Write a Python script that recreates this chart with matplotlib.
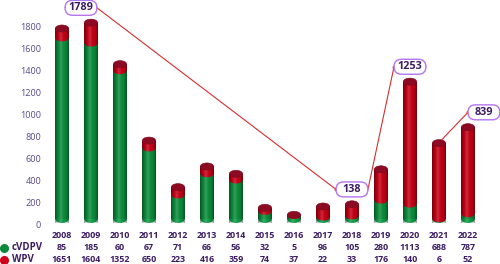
import matplotlib
matplotlib.use('Agg')
import matplotlib.pyplot as plt
import numpy as np
from matplotlib.patches import Ellipse, FancyBboxPatch
from matplotlib.transforms import blended_transform_factory
from matplotlib.lines import Line2D

years = [2008, 2009, 2010, 2011, 2012, 2013, 2014, 2015, 2016, 2017, 2018, 2019, 2020, 2021, 2022]
cvdpv = [85, 185, 60, 67, 71, 66, 56, 32, 5, 96, 105, 280, 1113, 688, 787]
wpv = [1651, 1604, 1352, 650, 223, 416, 359, 74, 37, 22, 33, 176, 140, 6, 52]
yticks = [0, 200, 400, 600, 800, 1000, 1200, 1400, 1600, 1800]
callout_years = [2009, 2018, 2020, 2022]

plt.rcParams['font.family'] = ['Open Sans', 'DejaVu Sans']

W, H = 500, 264
fig = plt.figure(figsize=(W / 100, H / 100), dpi=100)
ax = fig.add_axes([48 / W, 32 / H, (490 - 48) / W, (264 - 32) / H])
ax.set_xlim(-0.483, 14.76)
ax.set_ylim(-64, 2045)
for s in ax.spines.values():
    s.set_visible(False)
ax.set_xticks([])
ax.set_yticks(yticks)
ax.set_yticklabels([str(v) for v in yticks], fontsize=6.6, color='#5b4a8f')
ax.tick_params(axis='y', length=0, pad=5)

x = np.arange(len(years))
wpv_a = np.array(wpv)
cv_a = np.array(cvdpv)
tot = wpv_a + cv_a
bw = 0.46
eh = 64    # ellipse height in data units
base = 50  # 3D base offset of cylinders

GREEN = '#0b8a3b'
RED = '#c20015'
CAP = '#8c0b22'

n = 64
t = np.linspace(-1, 1, n)
shade = np.zeros((1, n, 4))
shade[0, :, 3] = 0.42 * np.clip(np.abs(t) ** 3, 0, 1)
shade_hl = np.ones((1, n, 4))
shade_hl[0, :, 3] = np.exp(-((t + 0.15) / 0.25) ** 2) * 0.16

for i in range(len(years)):
    ax.add_patch(Ellipse((x[i], base), bw, eh, facecolor='#0e9a45', edgecolor='none', zorder=2))
    ax.bar(x[i], wpv_a[i], bottom=base, width=bw, color=GREEN, zorder=2)
    ax.bar(x[i], cv_a[i], bottom=base + wpv_a[i], width=bw, color=RED, zorder=2)
    ax.add_patch(Ellipse((x[i], base + wpv_a[i]), bw, eh, facecolor=RED, edgecolor='none', zorder=3))
    for arr in (shade, shade_hl):
        ax.imshow(arr, extent=[x[i] - bw / 2, x[i] + bw / 2, base - eh / 2, base + tot[i]],
                  aspect='auto', zorder=4, interpolation='bilinear')
    ax.add_patch(Ellipse((x[i], base + tot[i]), bw, eh, facecolor=CAP, edgecolor='#7a0a1d',
                         lw=0.4, zorder=5))

# callouts
LINE = '#d32f2f'
box_w = 1.1
box_h = 136
asp = (1 / 0.11) / (1 / 29.0)
pos = {}
for yr in callout_years:
    i = years.index(yr)
    cx = x[i] - 0.345 if yr == 2009 else (x[i] + 0.55 if yr == 2022 else x[i])
    cy = tot[i] + 185
    pos[yr] = (cx, cy)
    box = FancyBboxPatch((cx - box_w / 2, cy - box_h / 2), box_w, box_h,
                         boxstyle='round,pad=0,rounding_size=0.26', mutation_aspect=asp,
                         facecolor='white', edgecolor='#b574f2', lw=1.0, zorder=7, clip_on=False)
    ax.add_patch(box)
    ax.text(cx, cy, str(tot[i]), ha='center', va='center', fontsize=7.8, fontweight='bold',
            color='#3c1d61', zorder=8, clip_on=False)


def link(p1, p2):
    ax.plot([p1[0], p2[0]], [p1[1], p2[1]], color=LINE, lw=0.8, zorder=6, clip_on=False)
    ax.plot([p2[0]], [p2[1]], 'o', color=LINE, ms=1.8, zorder=6, clip_on=False)


a, b, c, d = [pos[y] for y in callout_years]
link((a[0] + box_w / 2, a[1]), (b[0] - box_w / 2, b[1]))
link((b[0] + box_w / 2, b[1]), (c[0] - box_w / 2, c[1]))
i21 = years.index(2021)
ax.plot([d[0] - box_w / 2, x[i21] + 0.1], [d[1], tot[i21] + base + eh / 2], color=LINE,
        lw=0.8, zorder=6)
ax.plot([d[0] - box_w / 2], [d[1]], 'o', color=LINE, ms=1.8, zorder=6, clip_on=False)

# table under chart
TXT = '#3c1d61'
tr = blended_transform_factory(ax.transData, fig.transFigure)
rows = [(years, (H - 235) / H), (cvdpv, (H - 248) / H), (wpv, (H - 260) / H)]
for vals, yy in rows:
    for i, v in enumerate(vals):
        ax.text(x[i], yy, str(v), transform=tr, ha='center', va='center', fontsize=6.4,
                fontweight='bold', color=TXT, clip_on=False)

fig.add_artist(Line2D([4 / W], [(H - 248) / H], marker='o', ms=5.5, color=GREEN,
                      transform=fig.transFigure, lw=0))
fig.add_artist(Line2D([4 / W], [(H - 260) / H], marker='o', ms=5.5, color='#d0001a',
                      transform=fig.transFigure, lw=0))
fig.text(12 / W, (H - 248) / H, 'cVDPV', ha='left', va='center', fontsize=7,
         fontweight='bold', color=TXT)
fig.text(12 / W, (H - 260) / H, 'WPV', ha='left', va='center', fontsize=7,
         fontweight='bold', color=TXT)

fig.savefig('out.png', dpi=100)
